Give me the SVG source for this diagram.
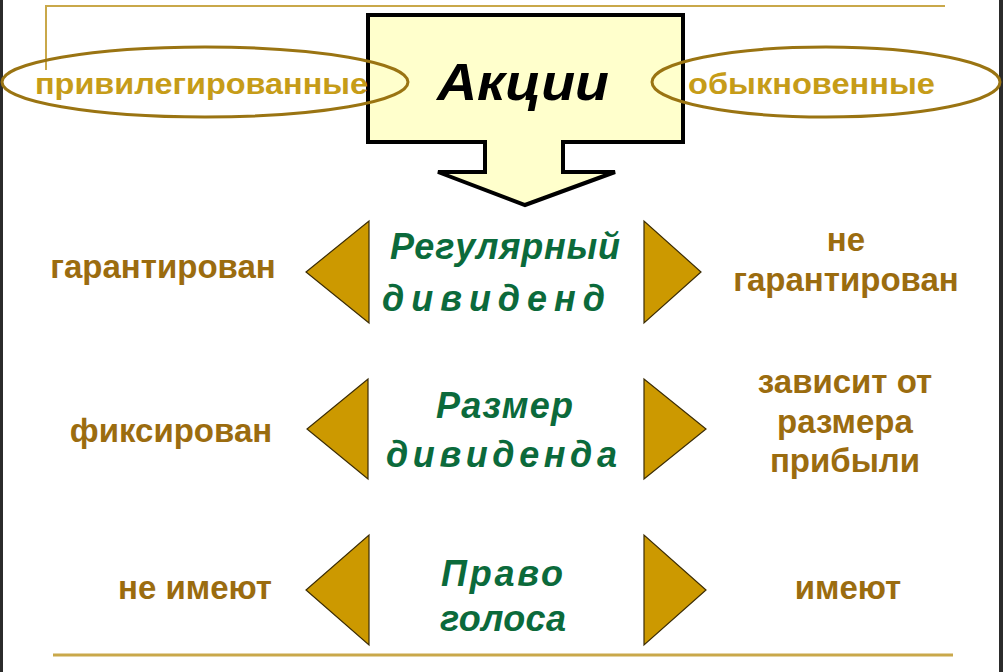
<svg xmlns="http://www.w3.org/2000/svg" width="1003" height="672" viewBox="0 0 1003 672">
<style>
.bg{fill:#ffffff}
.edge{fill:#2b2b2b}
.rule{stroke:#c9a84a;fill:none}
.oval{fill:none;stroke:#9a7412;stroke-width:3}
.otxt{font-family:"Liberation Sans",Arial,sans-serif;font-weight:bold;font-size:30px;fill:#c69c18}
.side{font-family:"Liberation Sans",Arial,sans-serif;font-weight:bold;font-size:33px;fill:#9b6c0f;text-anchor:middle}
.mid{font-family:"Liberation Sans",Arial,sans-serif;font-weight:bold;font-style:italic;font-size:36px;fill:#0b6a3b}
.tri{fill:#cc9900;stroke:#3b2c05;stroke-width:1.2}
.box{fill:#ffffcc;stroke:#000;stroke-width:4;stroke-linejoin:miter}
.title{font-family:"Liberation Sans",Arial,sans-serif;font-weight:bold;font-style:italic;font-size:52px;fill:#000}
</style>
<rect class="bg" x="0" y="0" width="1003" height="672"/>
<rect class="edge" x="0" y="0" width="3" height="672"/>
<rect class="edge" x="999" y="0" width="4" height="672"/>
<g id="connectors">
<path class="rule" stroke-width="2" d="M46,70 V6 H945"/>
<line class="rule" stroke-width="3" x1="53" y1="655" x2="953" y2="655"/>
</g>
<g id="akcii">
<path class="box" d="M368,15 H683 V142 H563 V172 H615 L525,205 L438,172 H485 V142 H368 Z"/>
<text class="title" x="437" y="100" textLength="172" lengthAdjust="spacingAndGlyphs">Акции</text>
</g>
<g id="privileged">
<ellipse class="oval" cx="205" cy="82" rx="203" ry="35"/>
<text class="otxt" x="35" y="94" textLength="333" lengthAdjust="spacingAndGlyphs">привилегированные</text>
</g>
<g id="ordinary">
<ellipse class="oval" cx="826" cy="82" rx="174" ry="35"/>
<text class="otxt" x="688" y="94" textLength="247" lengthAdjust="spacingAndGlyphs">обыкновенные</text>
</g>
<g id="row1">
<polygon class="tri" points="369,221 369,323 306,272"/>
<polygon class="tri" points="644,221 644,323 701,272"/>
<text class="mid" x="390" y="259" textLength="230" lengthAdjust="spacing">Регулярный</text>
<text class="mid" x="382" y="311" textLength="223" lengthAdjust="spacing">дивиденд</text>
<text class="side" x="163" y="278">гарантирован</text>
<text class="side" x="846" y="251">не</text>
<text class="side" x="846" y="291">гарантирован</text>
</g>
<g id="row2">
<polygon class="tri" points="368,379 368,479 307,429"/>
<polygon class="tri" points="644,379 644,479 706,429"/>
<text class="mid" x="436" y="418" textLength="137" lengthAdjust="spacing">Размер</text>
<text class="mid" x="386" y="467" textLength="231" lengthAdjust="spacing">дивиденда</text>
<text class="side" x="171" y="442">фиксирован</text>
<text class="side" x="845" y="393">зависит от</text>
<text class="side" x="845" y="433">размера</text>
<text class="side" x="845" y="472">прибыли</text>
</g>
<g id="row3">
<polygon class="tri" points="369,535 369,645 306,590"/>
<polygon class="tri" points="644,535 644,645 706,590"/>
<text class="mid" x="441" y="586" textLength="122" lengthAdjust="spacing">Право</text>
<text class="mid" x="440" y="631" textLength="126" lengthAdjust="spacing">голоса</text>
<text class="side" x="195" y="599">не имеют</text>
<text class="side" x="848" y="599">имеют</text>
</g>
</svg>
